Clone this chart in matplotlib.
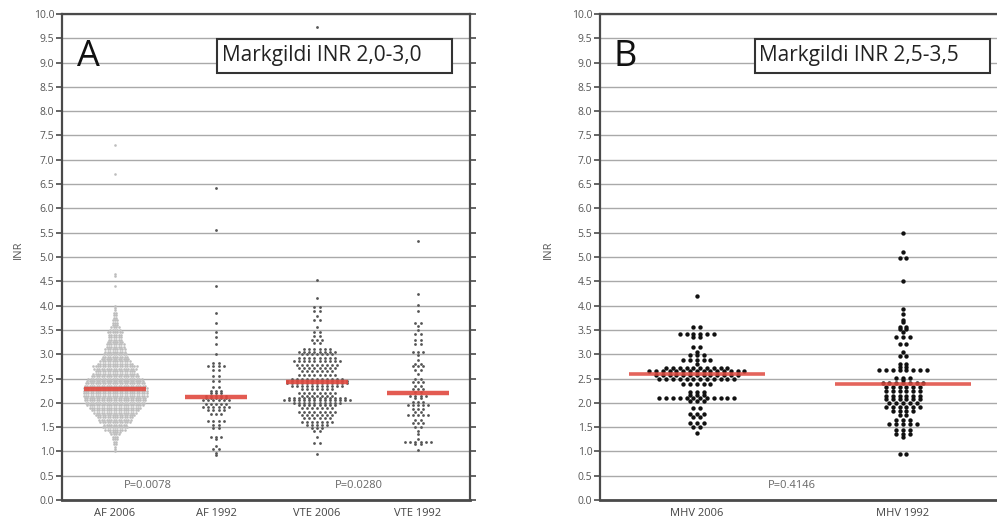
import numpy as np
import matplotlib.pyplot as plt
from matplotlib.patches import Rectangle

plt.rcParams['font.family'] = ['Open Sans', 'DejaVu Sans']

# ----------------------------
# Panel A data (INR level -> number of dots in that row)
# ----------------------------
af06_levels = [1.00, 1.05, 1.10, 1.15, 1.20, 1.25, 1.30, 1.35, 1.40, 1.45,
               1.50, 1.55, 1.60, 1.65, 1.70, 1.75, 1.80, 1.85, 1.90, 1.95,
               2.00, 2.05, 2.10, 2.15, 2.20, 2.25, 2.30, 2.35, 2.40, 2.45,
               2.50, 2.55, 2.60, 2.65, 2.70, 2.75, 2.80, 2.85, 2.90, 2.95,
               3.00, 3.05, 3.10, 3.15, 3.20, 3.25, 3.30, 3.35, 3.40, 3.45,
               3.50, 3.55, 3.60, 3.65, 3.70, 3.75, 3.80, 3.85, 3.90, 3.95,
               4.00, 4.40, 4.60, 4.65, 6.70, 7.30]
af06_counts = [1, 1, 1, 2, 2, 3, 3, 4, 5, 9,
               11, 10, 13, 14, 15, 17, 18, 20, 22, 24,
               25, 26, 26, 27, 27, 27, 27, 26, 25, 24,
               23, 20, 19, 17, 18, 19, 15, 13, 12, 11,
               10, 9, 9, 8, 8, 7, 6, 6, 6, 7,
               5, 4, 3, 3, 3, 2, 2, 2, 1, 1,
               1, 1, 1, 1, 1, 1]

af92_levels = [0.92, 0.97, 1.05, 1.12, 1.25, 1.30, 1.48, 1.55, 1.62, 1.78,
               1.85, 1.92, 1.98, 2.05, 2.10, 2.15, 2.20, 2.25, 2.33, 2.45,
               2.55, 2.68, 2.75, 2.82, 3.00, 3.22, 3.36, 3.46, 3.64, 3.84,
               4.40, 5.55, 6.42]
af92_counts = [1, 1, 2, 1, 1, 3, 2, 2, 4, 3,
               4, 6, 5, 6, 5, 5, 3, 3, 2, 2,
               2, 2, 4, 2, 1, 1, 1, 1, 1, 1,
               1, 1, 1]

vte06_levels = [0.95, 1.17, 1.30, 1.42, 1.48, 1.55, 1.60, 1.68, 1.75, 1.82,
                1.90, 1.95, 2.00, 2.05, 2.10, 2.15, 2.20, 2.28, 2.35, 2.40,
                2.45, 2.50, 2.58, 2.65, 2.72, 2.78, 2.85, 2.92, 3.00, 3.05,
                3.10, 3.23, 3.30, 3.38, 3.45, 3.55, 3.70, 3.78, 3.88, 3.98,
                4.15, 4.53, 9.73]
vte06_counts = [1, 2, 1, 2, 3, 5, 7, 6, 7, 8,
                7, 8, 10, 14, 12, 7, 8, 7, 11, 13,
                13, 11, 8, 7, 8, 9, 10, 8, 7, 8,
                6, 2, 3, 2, 2, 1, 2, 1, 2, 2,
                1, 1, 1]

vte92_levels = [1.02, 1.15, 1.20, 1.25, 1.35, 1.42, 1.50, 1.58, 1.65, 1.75,
                1.82, 1.88, 1.95, 2.02, 2.10, 2.15, 2.22, 2.28, 2.35, 2.42,
                2.50, 2.60, 2.68, 2.75, 2.80, 2.88, 2.98, 3.05, 3.22, 3.30,
                3.42, 3.50, 3.58, 3.65, 3.88, 4.02, 4.23, 5.32]
vte92_counts = [1, 2, 6, 1, 1, 1, 2, 3, 2, 5,
                2, 3, 5, 3, 2, 4, 2, 3, 2, 3,
                2, 1, 2, 3, 2, 1, 1, 3, 2, 2,
                2, 1, 1, 2, 1, 1, 1, 1]

groups_a = ["AF 2006", "AF 1992", "VTE 2006", "VTE 1992"]
medians_a = [2.28, 2.12, 2.42, 2.20]
pvals_a = ["P=0.0078", "P=0.0280"]

# ----------------------------
# Panel B data
# ----------------------------
mhv06_levels = [1.38, 1.50, 1.58, 1.70, 1.78, 1.90, 2.03, 2.10, 2.17, 2.23,
                2.38, 2.48, 2.57, 2.65, 2.72, 2.80, 2.88, 2.98, 3.05, 3.15,
                3.35, 3.42, 3.55, 4.20]
mhv06_counts = [1, 2, 3, 2, 3, 2, 3, 12, 3, 3,
                5, 12, 13, 15, 10, 1, 5, 3, 1, 2,
                2, 6, 2, 1]

mhv92_levels = [0.95, 1.30, 1.36, 1.45, 1.56, 1.65, 1.75, 1.84, 1.92, 2.00,
                2.08, 2.15, 2.24, 2.32, 2.40, 2.46, 2.52, 2.68, 2.73, 2.80,
                2.96, 3.05, 3.22, 3.35, 3.46, 3.52, 3.57, 3.66, 3.70, 3.83,
                3.93, 4.50, 4.97, 5.10, 5.50]
mhv92_counts = [2, 1, 3, 3, 5, 3, 2, 4, 6, 5,
                6, 6, 6, 6, 7, 1, 3, 8, 2, 2,
                2, 1, 2, 3, 1, 2, 2, 1, 1, 1,
                1, 1, 2, 1, 1]

groups_b = ["MHV 2006", "MHV 1992"]
medians_b = [2.60, 2.38]
pvals_b = ["P=0.4146"]


def swarm(ax, x0, levels, counts, dx, **kw):
    xs, ys = [], []
    for v, n in zip(levels, counts):
        off = (np.arange(n) - (n - 1) / 2) * dx
        xs.extend(x0 + off)
        ys.extend([v] * n)
    ax.scatter(xs, ys, **kw)


def style_axes(ax, right_ticks):
    ax.set_ylim(0, 10)
    ax.set_yticks(np.arange(0, 10.01, 0.5))
    ax.set_yticklabels([f"{v:.1f}" for v in np.arange(0, 10.01, 0.5)])
    ax.yaxis.grid(True, color='#a9a9a9', lw=1.0)
    ax.set_axisbelow(True)
    for s in ax.spines.values():
        s.set_color('#4a4a4a')
        s.set_linewidth(1.6)
    ax.spines['bottom'].set_linewidth(2.0)
    ax.tick_params(axis='y', direction='out', length=4, width=1.2, color='#4a4a4a',
                   labelsize=7.5, labelcolor='#555555', pad=1.5, right=right_ticks)
    ax.tick_params(axis='x', length=0, labelsize=8, labelcolor='#444444', pad=6)


fig = plt.figure(figsize=(9.97, 5.26), dpi=100)

# ----------------------------
# Panel A
# ----------------------------
axA = fig.add_axes([0.0622, 0.0494, 0.4092, 0.924])
style_axes(axA, True)
axA.set_xlim(0.475, 4.515)
axA.set_xticks([1, 2, 3, 4])
axA.set_xticklabels(groups_a)

swarm(axA, 1, af06_levels, af06_counts, 0.024, s=3.5, color='#bdbdbd', lw=0, zorder=2)
swarm(axA, 2, af92_levels, af92_counts, 0.05, s=4, color='#555555', lw=0, zorder=2)
swarm(axA, 3, vte06_levels, vte06_counts, 0.05, s=4, color='#555555', lw=0, zorder=2)
swarm(axA, 4, vte92_levels, vte92_counts, 0.05, s=4, color='#555555', lw=0, zorder=2)
for i, m in enumerate(medians_a):
    axA.plot([i + 1 - 0.31, i + 1 + 0.31], [m, m], color='#e0493f', lw=3.2,
             alpha=0.9, solid_capstyle='butt', zorder=3)

axA.text(1.33, 0.3, pvals_a[0], ha='center', va='center', fontsize=8, color='#666666')
axA.text(3.41, 0.3, pvals_a[1], ha='center', va='center', fontsize=8, color='#666666')
axA.text(0.037, 0.9115, "A", transform=axA.transAxes, fontsize=26,
         ha='left', va='center', color='#111111')
axA.add_patch(Rectangle((0.380, 0.8786), 0.576, 0.070, transform=axA.transAxes,
                        fill=True, facecolor='white', edgecolor='#333333', lw=1.5, zorder=4))
axA.text(0.392, 0.9136, "Markgildi INR 2,0-3,0", transform=axA.transAxes,
         fontsize=15, ha='left', va='center', color='#222222', zorder=5)
fig.text(18 / 997, 1 - 250 / 526, "INR", rotation=90, ha='center', va='center',
         fontsize=8, color='#555555')

# ----------------------------
# Panel B
# ----------------------------
axB = fig.add_axes([0.6018, 0.0494, 0.3982, 0.924])
style_axes(axB, False)
axB.spines['right'].set_visible(False)
axB.set_xlim(0.53, 2.456)
axB.set_xticks([1, 2])
axB.set_xticklabels(groups_b)

swarm(axB, 1, mhv06_levels, mhv06_counts, 0.033, s=10, color='#111111', lw=0, zorder=2)
swarm(axB, 2, mhv92_levels, mhv92_counts, 0.033, s=10, color='#111111', lw=0, zorder=2)
for i, m in enumerate(medians_b):
    axB.plot([i + 1 - 0.33, i + 1 + 0.33], [m, m], color='#e0493f', lw=2.6,
             alpha=0.85, solid_capstyle='butt', zorder=3)

axB.text(1.46, 0.3, pvals_b[0], ha='center', va='center', fontsize=8, color='#666666')
axB.text(0.033, 0.9115, "B", transform=axB.transAxes, fontsize=26,
         ha='left', va='center', color='#111111')
axB.add_patch(Rectangle((0.390, 0.8786), 0.592, 0.070, transform=axB.transAxes,
                        fill=True, facecolor='white', edgecolor='#333333', lw=1.5, zorder=4))
axB.text(0.401, 0.9136, "Markgildi INR 2,5-3,5", transform=axB.transAxes,
         fontsize=15, ha='left', va='center', color='#222222', zorder=5)
fig.text(548 / 997, 1 - 250 / 526, "INR", rotation=90, ha='center', va='center',
         fontsize=8, color='#555555')

plt.savefig("out.png", dpi=100)
